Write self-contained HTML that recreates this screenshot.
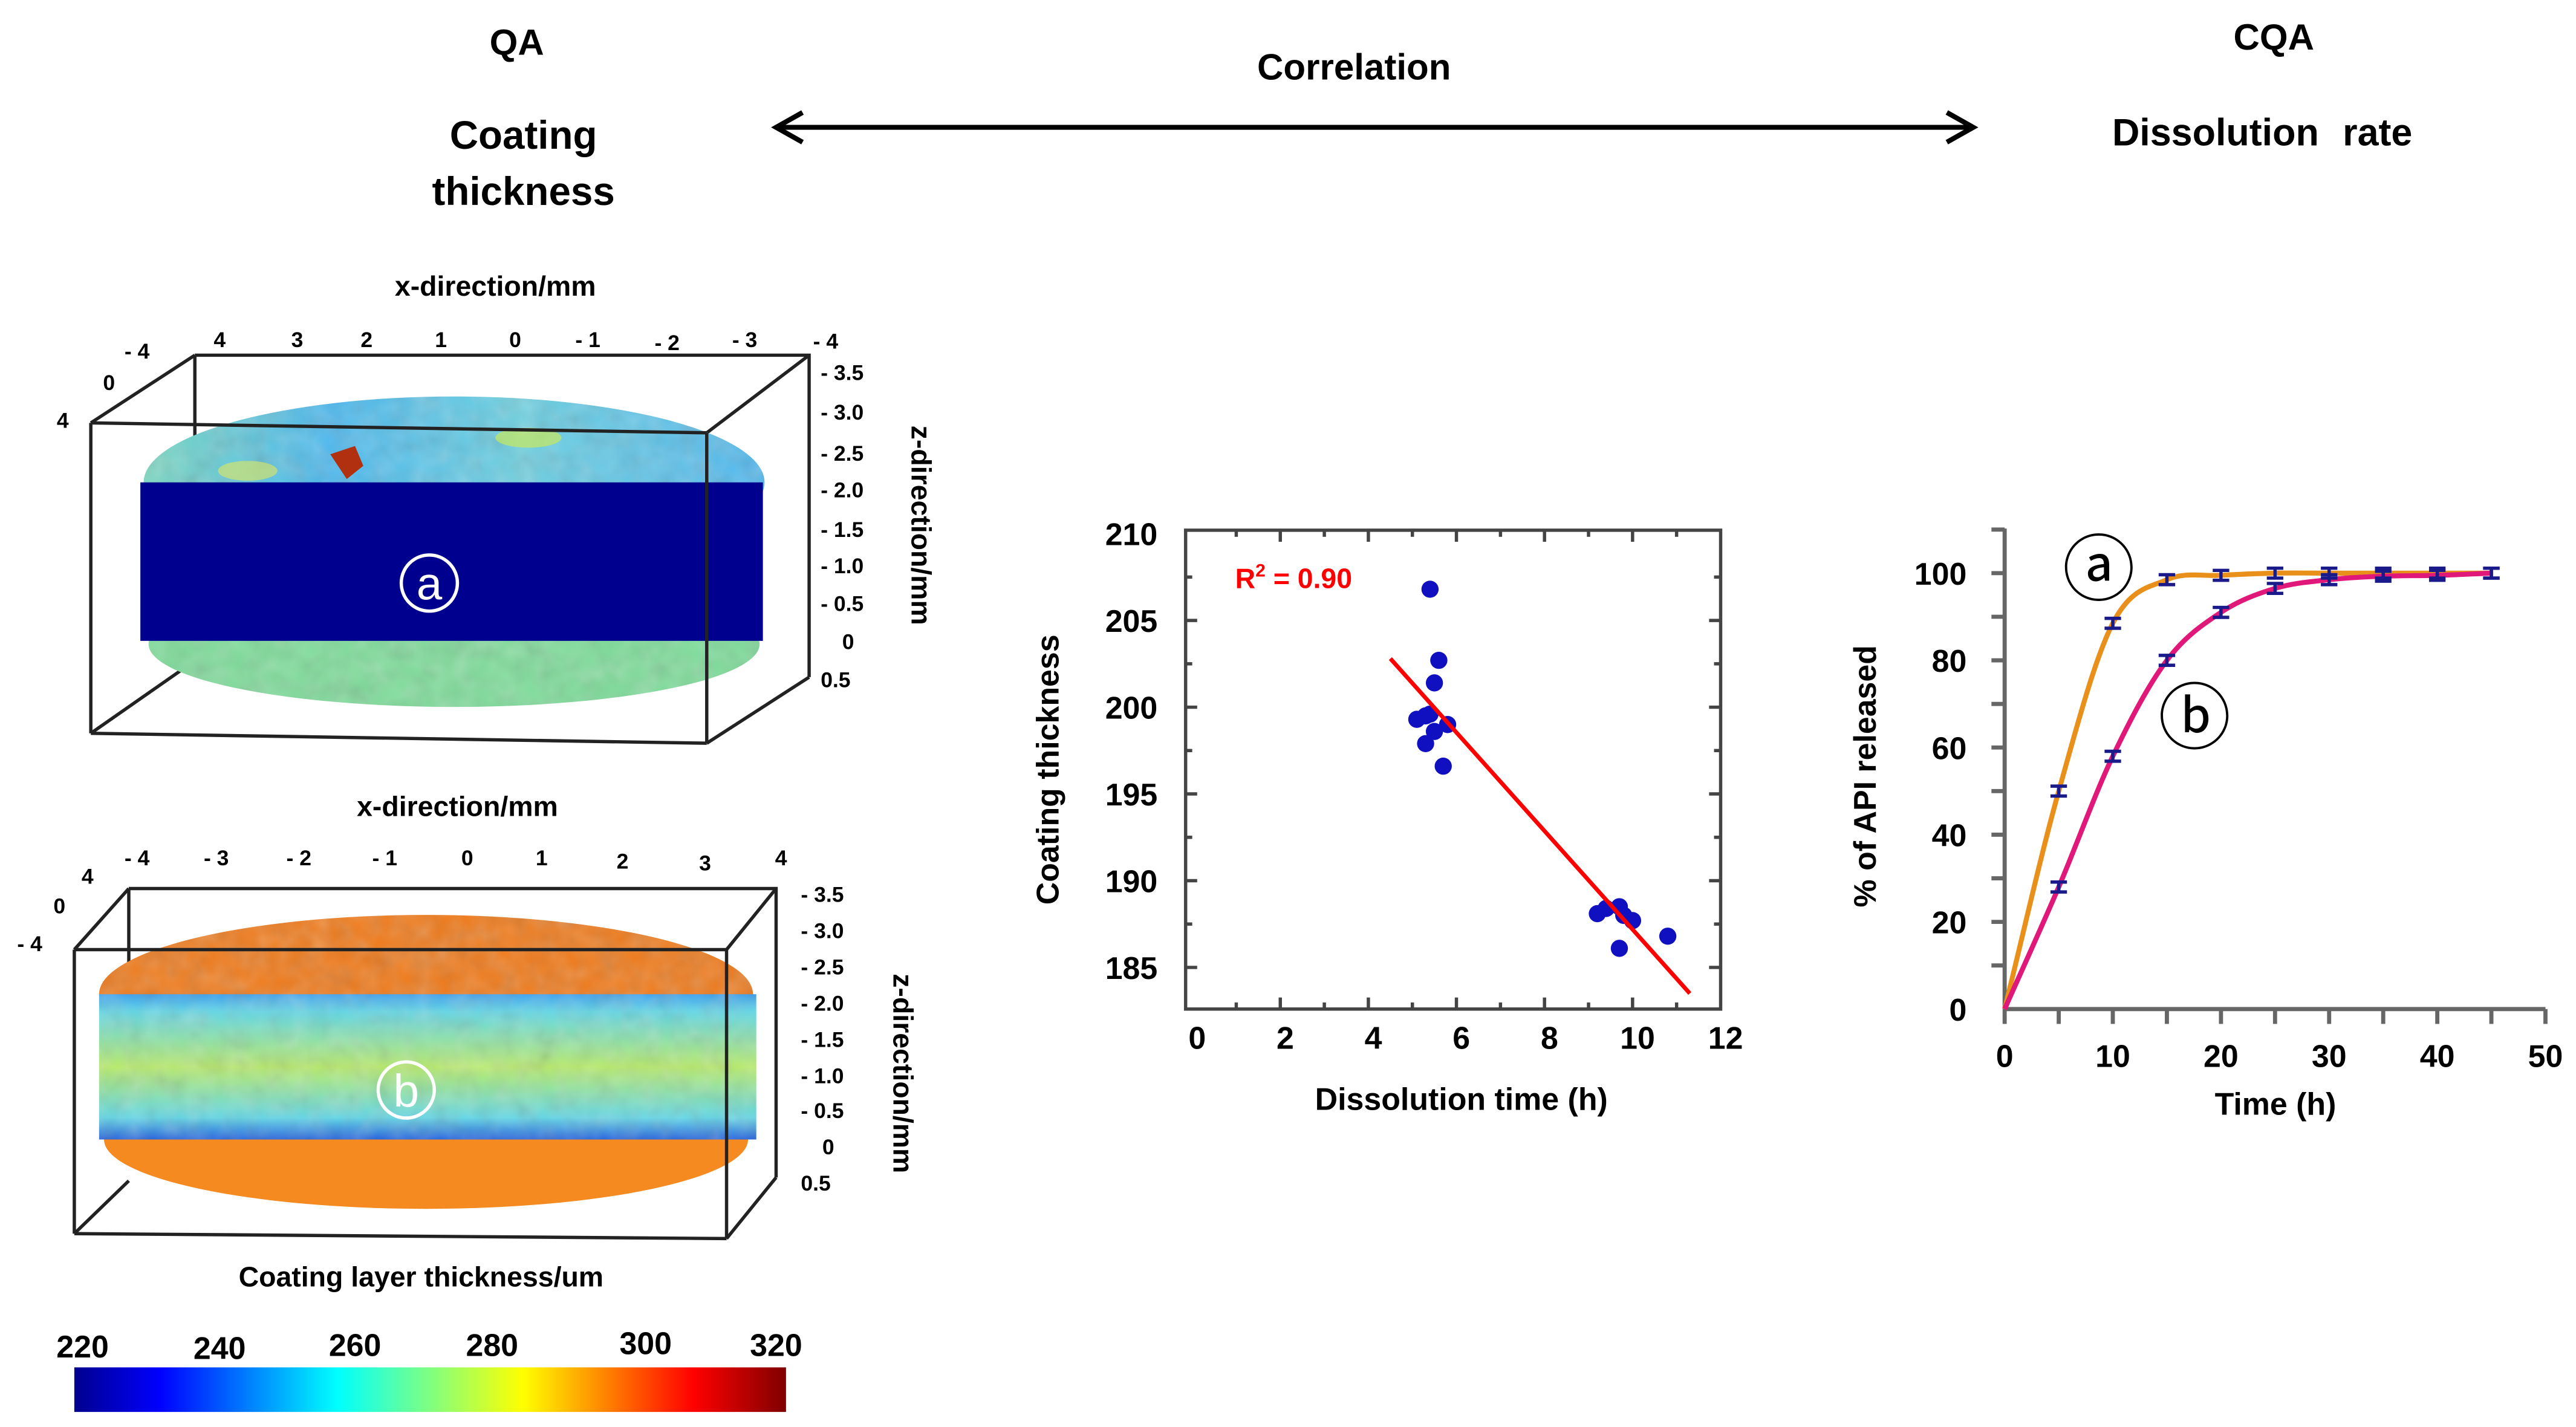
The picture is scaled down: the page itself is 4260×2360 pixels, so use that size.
<!DOCTYPE html>
<html><head><meta charset="utf-8"><style>
html,body{margin:0;padding:0;background:#fff}
svg{display:block;font-family:"Liberation Sans",Arial,sans-serif}
</style></head><body>
<svg id="root" width="4260" height="2360" viewBox="0 0 1560 864" xmlns="http://www.w3.org/2000/svg">
<defs>
<linearGradient id="jet" x1="0" x2="1" y1="0" y2="0">
<stop offset="0" stop-color="#00008f"/><stop offset="0.12" stop-color="#0000ff"/><stop offset="0.37" stop-color="#00ffff"/><stop offset="0.5" stop-color="#80ff80"/><stop offset="0.63" stop-color="#ffff00"/><stop offset="0.87" stop-color="#ff0000"/><stop offset="1" stop-color="#800000"/>
</linearGradient>
<linearGradient id="bandB" x1="0" x2="0" y1="0" y2="1">
<stop offset="0" stop-color="#3aa0f0"/><stop offset="0.12" stop-color="#60d8e8"/><stop offset="0.5" stop-color="#b8ec6a"/><stop offset="0.85" stop-color="#60d8e8"/><stop offset="1" stop-color="#2060e0"/>
</linearGradient>
<linearGradient id="topA" x1="0" x2="1" y1="0" y2="0">
<stop offset="0" stop-color="#7ad8c0"/><stop offset="0.3" stop-color="#4ab8f0"/><stop offset="0.6" stop-color="#6cd0e0"/><stop offset="1" stop-color="#50b8f0"/>
</linearGradient>
<filter id="noise" x="0" y="0" width="1" height="1"><feTurbulence type="fractalNoise" baseFrequency="0.08" numOctaves="2" seed="3"/><feColorMatrix type="saturate" values="0"/><feComponentTransfer><feFuncA type="table" tableValues="0 0.35"/></feComponentTransfer><feComposite in2="SourceGraphic" operator="in"/></filter>
</defs>

<g font-weight="bold" fill="#000" text-anchor="middle">
<text x="313" y="33" font-size="22">QA</text>
<text x="317" y="90" font-size="24">Coating</text>
<text x="317" y="124" font-size="24">thickness</text>
<text x="820" y="48" font-size="22">Correlation</text>
<text x="1377" y="30" font-size="22">CQA</text>
<text x="1370" y="88" font-size="23" word-spacing="8">Dissolution rate</text>
</g>
<g stroke="#000" stroke-width="3" fill="none">
<line x1="472" y1="77" x2="1193" y2="77"/>
<polyline points="486,68 470,77 486,86"/>
<polyline points="1179,68 1195,77 1179,86"/>
</g>

<g>
<text x="300" y="179" font-size="17" font-weight="bold" text-anchor="middle">x-direction/mm</text>
<g font-size="13" font-weight="bold" text-anchor="middle">
<text x="133" y="210">4</text><text x="180" y="210">3</text><text x="222" y="210">2</text><text x="267" y="210">1</text><text x="312" y="210">0</text><text x="356" y="210">- 1</text><text x="404" y="212">- 2</text><text x="451" y="210">- 3</text><text x="500" y="211">- 4</text>
<text x="83" y="217">- 4</text><text x="66" y="236">0</text><text x="38" y="259">4</text>
</g>
<g font-size="13" font-weight="bold" text-anchor="start">
<text x="497" y="230">- 3.5</text><text x="497" y="254">- 3.0</text><text x="497" y="279">- 2.5</text><text x="497" y="301">- 2.0</text><text x="497" y="325">- 1.5</text><text x="497" y="347">- 1.0</text><text x="497" y="370">- 0.5</text><text x="510" y="393">0</text><text x="497" y="416">0.5</text>
</g>
<text transform="translate(552,318) rotate(90)" font-size="17" font-weight="bold" text-anchor="middle">z-direction/mm</text>
<g stroke="#222" stroke-width="2" fill="none">
<polyline points="118,215 490,215 490,410"/>
<line x1="118" y1="215" x2="118" y2="365"/>
<line x1="55" y1="256" x2="118" y2="215"/><line x1="428" y1="262" x2="490" y2="215"/>
<line x1="55" y1="444" x2="118" y2="400"/><line x1="428" y1="450" x2="490" y2="410"/>
<line x1="118" y1="400" x2="150" y2="400"/>
</g>
<ellipse cx="275" cy="292" rx="188" ry="52" fill="url(#topA)"/>
<ellipse cx="275" cy="292" rx="188" ry="52" fill="#000" filter="url(#noise)"/>
<ellipse cx="320" cy="265" rx="20" ry="6" fill="#c8e860" opacity="0.7"/>
<ellipse cx="150" cy="285" rx="18" ry="6" fill="#e0e860" opacity="0.6"/>
<path d="M200,275 l15,-5 l5,12 l-10,8z" fill="#b03010"/>
<ellipse cx="275" cy="390" rx="185" ry="38" fill="#7edc9a"/>
<ellipse cx="275" cy="390" rx="185" ry="38" fill="#000" filter="url(#noise)"/>
<path d="M85,292 L462,292 L462,388 L85,388 Z" fill="#00008f"/>
<g stroke="#222" stroke-width="2" fill="none">
<line x1="55" y1="256" x2="428" y2="262"/><line x1="55" y1="256" x2="55" y2="444"/><line x1="428" y1="262" x2="428" y2="450"/><line x1="55" y1="444" x2="428" y2="450"/>
</g>
<circle cx="260" cy="353" r="17" fill="none" stroke="#fff" stroke-width="2"/>
<text x="260" y="363" font-size="28" fill="#fff" text-anchor="middle">a</text>
</g>

<g>
<text x="277" y="494" font-size="17" font-weight="bold" text-anchor="middle">x-direction/mm</text>
<g font-size="13" font-weight="bold" text-anchor="middle">
<text x="83" y="524">- 4</text><text x="131" y="524">- 3</text><text x="181" y="524">- 2</text><text x="233" y="524">- 1</text><text x="283" y="524">0</text><text x="328" y="524">1</text><text x="377" y="526">2</text><text x="427" y="527">3</text><text x="473" y="524">4</text>
<text x="53" y="535">4</text><text x="36" y="553">0</text><text x="18" y="576">- 4</text>
</g>
<g font-size="13" font-weight="bold" text-anchor="start">
<text x="485" y="546">- 3.5</text><text x="485" y="568">- 3.0</text><text x="485" y="590">- 2.5</text><text x="485" y="612">- 2.0</text><text x="485" y="634">- 1.5</text><text x="485" y="656">- 1.0</text><text x="485" y="677">- 0.5</text><text x="498" y="699">0</text><text x="485" y="721">0.5</text>
</g>
<text transform="translate(541,650) rotate(90)" font-size="17" font-weight="bold" text-anchor="middle">z-direction/mm</text>
<g stroke="#222" stroke-width="2" fill="none">
<polyline points="78,538 470,538 470,713"/>
<line x1="78" y1="538" x2="78" y2="690"/>
<line x1="45" y1="575" x2="78" y2="538"/><line x1="440" y1="575" x2="470" y2="538"/>
<line x1="45" y1="747" x2="78" y2="715"/><line x1="440" y1="750" x2="470" y2="713"/>
</g>
<ellipse cx="258" cy="602" rx="198" ry="48" fill="#f07a1a"/>
<ellipse cx="258" cy="602" rx="198" ry="48" fill="#000" filter="url(#noise)"/>
<ellipse cx="258" cy="690" rx="195" ry="42" fill="#f58a20"/>
<path d="M60,602 L458,602 L458,690 L60,690 Z" fill="url(#bandB)"/>
<path d="M60,602 L458,602 L458,690 L60,690 Z" fill="#000" filter="url(#noise)"/>
<g stroke="#222" stroke-width="2" fill="none">
<line x1="45" y1="575" x2="440" y2="575"/><line x1="45" y1="575" x2="45" y2="747"/><line x1="440" y1="575" x2="440" y2="750"/><line x1="45" y1="747" x2="440" y2="750"/>
</g>
<circle cx="246" cy="660" r="17" fill="none" stroke="#fff" stroke-width="2"/>
<text x="246" y="670" font-size="28" fill="#fff" text-anchor="middle">b</text>
</g>

<g>
<text x="255" y="779" font-size="17" font-weight="bold" text-anchor="middle">Coating layer thickness/um</text>
<g font-size="19" font-weight="bold" text-anchor="middle">
<text x="50" y="822">220</text><text x="133" y="823">240</text><text x="215" y="821">260</text><text x="298" y="821">280</text><text x="391" y="820">300</text><text x="470" y="821">320</text>
</g>
<rect x="45" y="828" width="431" height="27" fill="url(#jet)"/>
</g>

<g id="scatter"></g>
<g id="diss"></g>
</svg>
<script>
const scX = [5.4,5.6,5.5,5.1,5.3,5.4,5.8,5.5,5.3,5.7,9.2,9.4,9.7,9.8,10.0,9.7,10.8];
const scY = [206.8,202.7,201.4,199.3,199.5,199.6,199.0,198.6,197.9,196.6,188.1,188.4,188.5,188.0,187.7,186.1,186.8];
const fitX = [4.5,11.3];
const fitY = [202.8,183.5];
const scXTicks = [0,2,4,6,8,10,12];
const scYTicks = [185,190,195,200,205,210];
const tTime = [0,5,10,15,20,25,30,35,40,45];
const relA = [0,50,88.5,98.5,99.5,100,100,100,100,100];
const relB = [0,28,58,80,91,96.5,98.5,99.3,99.5,100];
const dXTicks = [0,10,20,30,40,50];
const dYTicks = [0,20,40,60,80,100];

const NS='http://www.w3.org/2000/svg';
function mk(parent,tag,attrs,txt){const e=document.createElementNS(NS,tag);for(const k in attrs)e.setAttribute(k,attrs[k]);if(txt!==undefined)e.textContent=txt;parent.appendChild(e);return e;}

(function(){
  const g=document.getElementById('scatter');
  const L=718,R=1042,T=321,B=611,x0=-0.15,x1=12,y0=182.6,y1=210.2;
  const sx=v=>L+(v-x0)/(x1-x0)*(R-L), sy=v=>B-(v-y0)/(y1-y0)*(B-T);
  const box=mk(g,'rect',{x:L,y:T,width:R-L,height:B-T,fill:'none',stroke:'#444','stroke-width':2});
  
  
  for(let v=1;v<12;v++){const x=sx(v),len=v%2?4:7;
    mk(g,'line',{x1:x,x2:x,y1:B,y2:B-len,stroke:'#444','stroke-width':2});
    mk(g,'line',{x1:x,x2:x,y1:T,y2:T+len,stroke:'#444','stroke-width':2});}
  for(let v=185;v<=207.5;v+=2.5){const y=sy(v),len=(v%5)?4:7;
    mk(g,'line',{x1:L,x2:L+len,y1:y,y2:y,stroke:'#444','stroke-width':2});
    mk(g,'line',{x1:R,x2:R-len,y1:y,y2:y,stroke:'#444','stroke-width':2});}
  scXTicks.forEach(v=>{const t=mk(g,'text',{x:sx(v)+3,y:635,'font-size':19,'font-weight':'bold','text-anchor':'middle'},String(v));
    
    });
  scYTicks.forEach(v=>{const t=mk(g,'text',{x:701,y:sy(v)+7,'font-size':19,'font-weight':'bold','text-anchor':'end'},String(v));
    
    });
  const xt=mk(g,'text',{x:885,y:672,'font-size':19,'font-weight':'bold','text-anchor':'middle'},'Dissolution time (h)');
  
  
  const yt=mk(g,'text',{transform:'translate(641,466) rotate(-90)','font-size':19,'font-weight':'bold','text-anchor':'middle'},'Coating thickness');
  
  
  scX.forEach((v,i)=>{const c=mk(g,'circle',{cx:sx(v),cy:sy(scY[i]),r:5.2,fill:'#1010c0'});
    
    });
  const fl=mk(g,'line',{x1:sx(fitX[0]),y1:sy(fitY[0]),x2:sx(fitX[1]),y2:sy(fitY[1]),stroke:'#f00','stroke-width':2.5});
  
  
  const r2=mk(g,'text',{x:748,y:356,'font-size':17,'font-weight':'bold',fill:'#f00'});
  
  
  r2.innerHTML='R<tspan dy="-7" font-size="11">2</tspan><tspan dy="7"> = 0.90</tspan>';
})();

(function(){
  const g=document.getElementById('diss');
  const L=1214,B=611,T=320,sx=v=>L+v*6.55,sy=v=>B-v*2.64;
  mk(g,'line',{x1:L,x2:L,y1:T,y2:B,stroke:'#666','stroke-width':2.5});
  mk(g,'line',{x1:L,x2:sx(50),y1:B,y2:B,stroke:'#666','stroke-width':2.5});
  for(let v=0;v<=50;v+=5)mk(g,'line',{x1:sx(v),x2:sx(v),y1:B,y2:B+9,stroke:'#666','stroke-width':2.5});
  for(let v=10;v<=110;v+=10)mk(g,'line',{x1:L-8,x2:L,y1:sy(v),y2:sy(v),stroke:'#666','stroke-width':2.5});
  dXTicks.forEach(v=>{const t=mk(g,'text',{x:sx(v),y:646,'font-size':19,'font-weight':'bold','text-anchor':'middle'},String(v));
    
    });
  dYTicks.forEach(v=>{const t=mk(g,'text',{x:1191,y:sy(v)+7,'font-size':19,'font-weight':'bold','text-anchor':'end'},String(v));
    
    });
  const xt=mk(g,'text',{x:1378,y:675,'font-size':19,'font-weight':'bold','text-anchor':'middle'},'Time (h)');
  
  
  const yt=mk(g,'text',{transform:'translate(1136,470) rotate(-90)','font-size':19,'font-weight':'bold','text-anchor':'middle'},'% of API released');
  
  
  function curve(ys){
    const p=tTime.map((t,i)=>[sx(t),sy(ys[i])]);let d='M'+p[0][0]+','+p[0][1];
    const m=p.map((q,i)=>{const a=p[Math.max(0,i-1)],b=p[Math.min(p.length-1,i+1)];return (b[1]-a[1])/(b[0]-a[0]);});
    for(let i=0;i<p.length-1;i++){const h=(p[i+1][0]-p[i][0])/3;
      let m0=m[i],m1=m[i+1];if(i===0)m0=(p[1][1]-p[0][1])/(p[1][0]-p[0][0]);
      d+=` C${p[i][0]+h},${p[i][1]+m0*h} ${p[i+1][0]-h},${p[i+1][1]-m1*h} ${p[i+1][0]},${p[i+1][1]}`;}
    return d;}
  const ca=mk(g,'path',{d:curve(relA),fill:'none',stroke:'#e8901a','stroke-width':3});
  
  
  const cb=mk(g,'path',{d:curve(relB),fill:'none',stroke:'#e0187a','stroke-width':3});
  
  
  [relA,relB].forEach(ys=>{tTime.forEach((t,i)=>{if(i===0)return;const x=sx(t),y=sy(ys[i]);
    const e=mk(g,'path',{d:`M${x-5},${y-3}H${x+5}M${x-5},${y+3}H${x+5}M${x},${y-3}V${y+3}`,stroke:'#1a1a8a','stroke-width':2,fill:'none'});
    
    });});
  const la=mk(g,'text',{x:1271,y:360,'font-size':44,'text-anchor':'middle'},'ⓐ');
  
  
  const lb=mk(g,'text',{x:1329,y:450,'font-size':44,'text-anchor':'middle'},'ⓑ');
  
  
})();
</script>
</body></html>
